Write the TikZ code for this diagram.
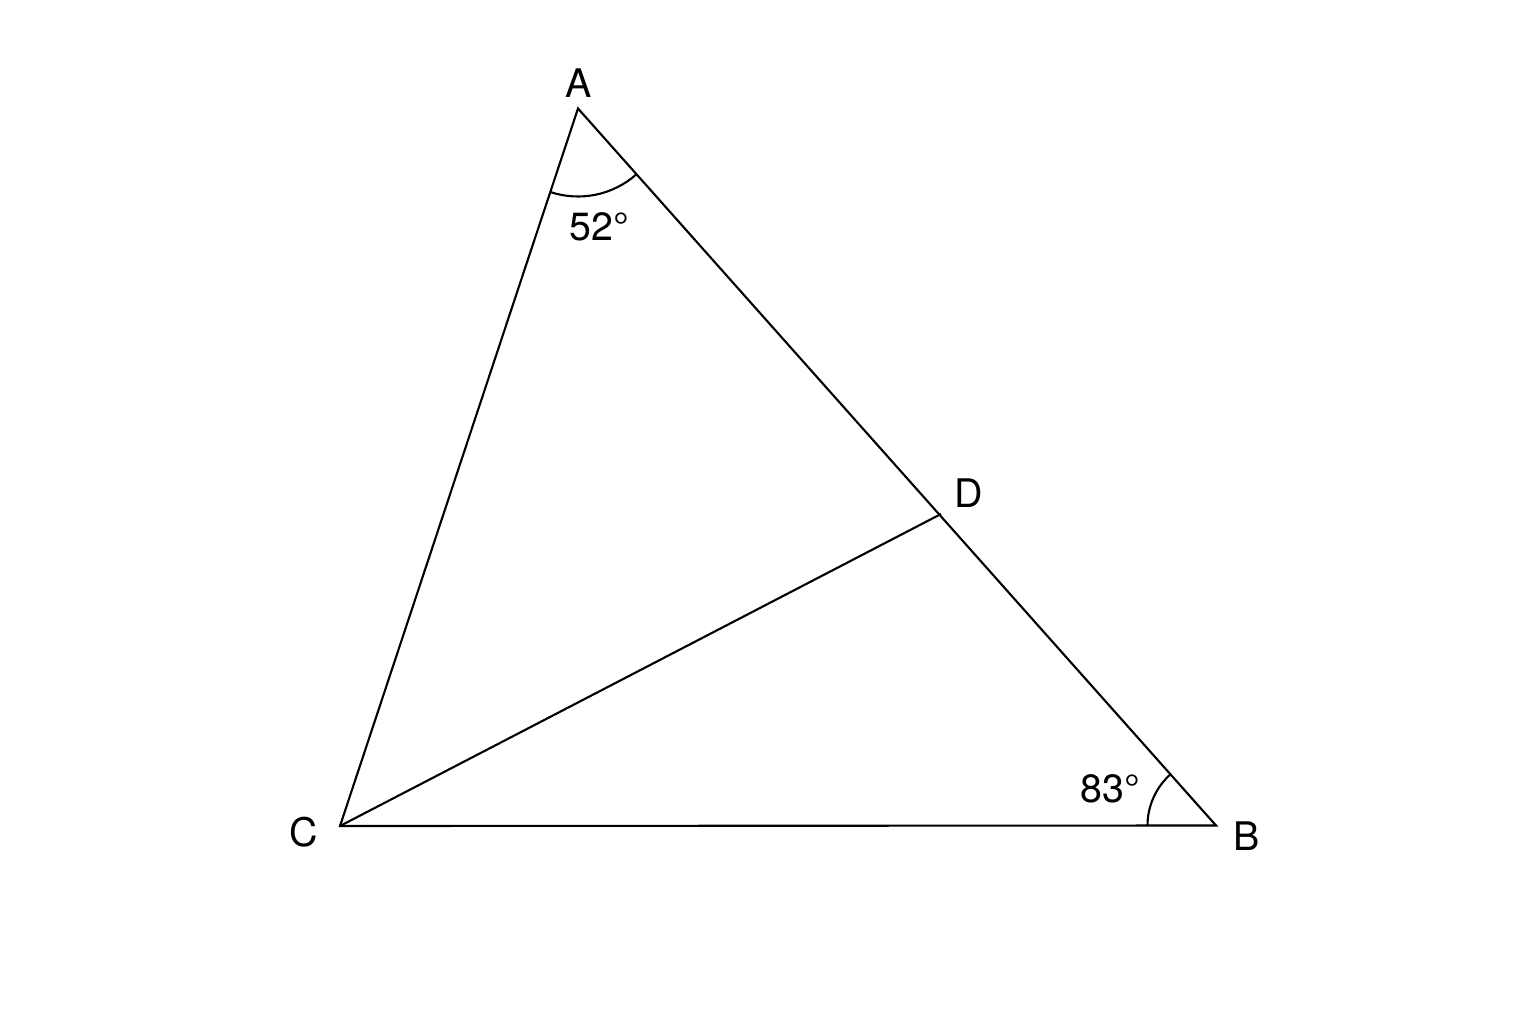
\documentclass[tikz,border=0pt]{standalone}
\usepackage{fontspec}
\setmainfont{TeX Gyre Heros}
\begin{document}
\begin{tikzpicture}[x=1cm,y=1cm,
  edge/.style={line width=0.6pt, black},
  lbl/.style={font=\fontsize{11.2}{13}\selectfont, inner sep=0pt}]
\useasboundingbox (0,0) rectangle (15.36,10.24);
\coordinate (A) at (5.78,9.155);
\coordinate (C) at (3.40,1.98);
\coordinate (B) at (12.16,1.985);
\coordinate (D) at (9.41,5.10);
\draw[edge, line join=miter] (A) -- (B) -- (C) -- cycle;
\draw[edge] (C) -- (D);
% angle arcs
\draw[edge] ([shift={(251.66:0.88)}]A) arc[start angle=251.66, end angle=311.6, radius=0.88];
\draw[edge] ([shift={(180:0.685)}]B) arc[start angle=180, end angle=131.6, radius=0.685];
% labels
\node[lbl] (lA) at (5.79,9.41) {A};
\node[lbl] (lB) at (12.465,1.88) {B};
\node[lbl] (lC) at (3.04,1.92) {C};
\node[lbl] (lD) at (9.69,5.31) {D};
\node[lbl] (a52) at (5.995,7.97) {52°};
\node[lbl] (a83) at (11.10,2.35) {83°};
\end{tikzpicture}
\end{document}
